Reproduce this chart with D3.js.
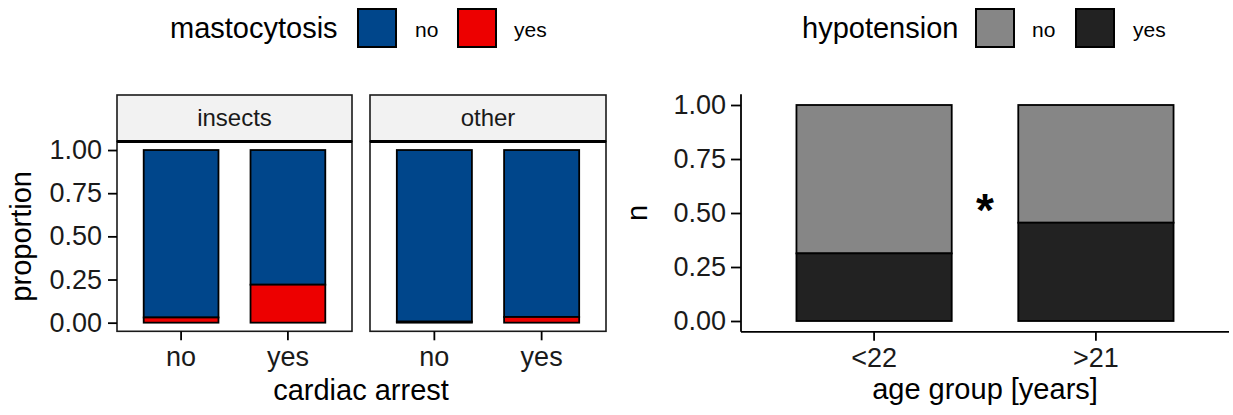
<!DOCTYPE html>
<html>
<head>
<meta charset="utf-8">
<script src="https://cdn.jsdelivr.net/npm/d3@7"></script>
<style>
  body { margin: 0; background: #fff; }
  svg { display: block; font-family: "Liberation Sans", Arial, sans-serif; }
  .axis path, .axis line { stroke: #000; stroke-width: 1.8px; }
  .axis text { font-size: 27px; fill: #1a1a1a; }
</style>
</head>
<body>
<svg id="chart" width="1233" height="415"></svg>
<script>
// data
const facets = ["insects", "other"];
const arrestCats = ["no", "yes"];
const insectsYes = [0.03, 0.22];   // proportion with mastocytosis
const otherYes = [0.006, 0.033];
const ageGroups = ["<22", ">21"];
const hypoYes = [0.313, 0.455];    // proportion with hypotension
const yTicks = [0, 0.25, 0.5, 0.75, 1];

const mastoColors = { no: "#00468B", yes: "#ED0000" };
const hypoColors = { no: "#868686", yes: "#222222" };

const svg = d3.select("#chart");
const fmt = d3.format(".2f");

// ---------- left: faceted proportion bars ----------
const panelTop = 141.4, panelBottom = 331.3;
const yL = d3.scaleLinear().domain([-0.05, 1.05]).range([panelBottom, panelTop]);
const panels = [
  { name: facets[0], x0: 117, x1: 352, vals: insectsYes },
  { name: facets[1], x0: 370, x1: 606, vals: otherYes }
];

panels.forEach((p, pi) => {
  const g = svg.append("g");
  const x = d3.scaleBand().domain(arrestCats).range([p.x0, p.x1]).paddingInner(0.3).paddingOuter(0.25);

  // strip
  g.append("rect").attr("x", p.x0).attr("y", 95).attr("width", p.x1 - p.x0).attr("height", panelTop - 95)
    .attr("fill", "#f2f2f2").attr("stroke", "#1a1a1a").attr("stroke-width", 1.6);
  g.append("text").attr("x", (p.x0 + p.x1) / 2).attr("y", 126).attr("text-anchor", "middle")
    .attr("font-size", 24).attr("fill", "#1a1a1a").text(p.name);

  // bars
  const segs = [];
  arrestCats.forEach((c, i) => {
    segs.push({ cat: c, lo: p.vals[i], hi: 1, key: "no" });
    segs.push({ cat: c, lo: 0, hi: p.vals[i], key: "yes" });
  });
  g.selectAll("rect.bar").data(segs).enter().append("rect").attr("class", "bar")
    .attr("x", d => x(d.cat)).attr("width", x.bandwidth())
    .attr("y", d => yL(d.hi)).attr("height", d => yL(d.lo) - yL(d.hi))
    .attr("fill", d => mastoColors[d.key]).attr("stroke", "#000").attr("stroke-width", 1.8);

  // panel border
  g.append("rect").attr("x", p.x0).attr("y", panelTop).attr("width", p.x1 - p.x0).attr("height", panelBottom - panelTop)
    .attr("fill", "none").attr("stroke", "#1a1a1a").attr("stroke-width", 1.6);
  g.append("line").attr("x1", p.x0).attr("x2", p.x1).attr("y1", panelTop).attr("y2", panelTop)
    .attr("stroke", "#000").attr("stroke-width", 3);

  // x axis
  const xa = g.append("g").attr("class", "axis").attr("transform", `translate(0,${panelBottom})`)
    .call(d3.axisBottom(x).tickSize(9).tickPadding(7));
  xa.select(".domain").remove();
  xa.selectAll("text").attr("dy", "0.71em");

  if (pi === 0) {
    const ya = g.append("g").attr("class", "axis").attr("transform", `translate(${p.x0},0)`)
      .call(d3.axisLeft(yL).tickValues(yTicks).tickFormat(fmt).tickSize(9).tickPadding(6));
    ya.select(".domain").remove();
  }
});

svg.append("text").attr("x", 361).attr("y", 400).attr("text-anchor", "middle")
  .attr("font-size", 29).attr("fill", "#000").text("cardiac arrest");
svg.append("text").attr("transform", `translate(31,${(panelTop + panelBottom) / 2}) rotate(-90)`)
  .attr("text-anchor", "middle").attr("font-size", 29).attr("fill", "#000").text("proportion");

// ---------- right: hypotension by age group ----------
const rx0 = 741, rx1 = 1229;
const ryTop = 94.2, ryBottom = 331.8;
const yR = d3.scaleLinear().domain([-0.05, 1.05]).range([ryBottom, ryTop]);
const xR = d3.scaleBand().domain(ageGroups).range([rx0, rx1]).paddingInner(0.3).paddingOuter(0.25);

const rg = svg.append("g");
const rsegs = [];
ageGroups.forEach((a, i) => {
  rsegs.push({ cat: a, lo: hypoYes[i], hi: 1, key: "no" });
  rsegs.push({ cat: a, lo: 0, hi: hypoYes[i], key: "yes" });
});
rg.selectAll("rect.bar").data(rsegs).enter().append("rect").attr("class", "bar")
  .attr("x", d => xR(d.cat)).attr("width", xR.bandwidth())
  .attr("y", d => yR(d.hi)).attr("height", d => yR(d.lo) - yR(d.hi))
  .attr("fill", d => hypoColors[d.key]).attr("stroke", "#000").attr("stroke-width", 1.8);

const rxa = rg.append("g").attr("class", "axis").attr("transform", `translate(0,${ryBottom})`)
  .call(d3.axisBottom(xR).tickSize(9).tickPadding(7));
rxa.select(".domain").attr("d", `M${rx0},0H${rx1}`);
rxa.selectAll("text").attr("dy", "0.71em");

const rya = rg.append("g").attr("class", "axis").attr("transform", `translate(${rx0},0)`)
  .call(d3.axisLeft(yR).tickValues(yTicks).tickFormat(fmt).tickSize(10).tickPadding(5));
rya.select(".domain").attr("d", `M0,${ryTop}V${ryBottom}`);

// significance marker
rg.append("text").attr("x", (xR(ageGroups[0]) + xR(ageGroups[1]) + xR.bandwidth()) / 2).attr("y", 226)
  .attr("text-anchor", "middle").attr("font-size", 46).attr("font-weight", "bold").attr("fill", "#000").text("*");

svg.append("text").attr("x", 985).attr("y", 399).attr("text-anchor", "middle")
  .attr("font-size", 29).attr("fill", "#000").text("age group [years]");
svg.append("text").attr("transform", `translate(647,${(ryTop + ryBottom) / 2}) rotate(-90)`)
  .attr("text-anchor", "middle").attr("font-size", 29).attr("fill", "#000").text("n");

// ---------- legends ----------
function legend(title, tx, keysX, labelsX, cats, colors) {
  const lg = svg.append("g");
  lg.append("text").attr("x", tx).attr("y", 38).attr("font-size", 29).attr("fill", "#000").text(title);
  cats.forEach((c, i) => {
    lg.append("rect").attr("x", keysX[i] + 1).attr("y", 9).attr("width", 38).attr("height", 38)
      .attr("fill", colors[c]).attr("stroke", "#000").attr("stroke-width", 2);
    lg.append("text").attr("x", labelsX[i]).attr("y", 37).attr("font-size", 21).attr("fill", "#000").text(c);
  });
}
legend("mastocytosis", 170, [357, 457], [415, 514], arrestCats, mastoColors);
legend("hypotension", 802, [975, 1075], [1032, 1133], arrestCats, hypoColors);
</script>
</body>
</html>
